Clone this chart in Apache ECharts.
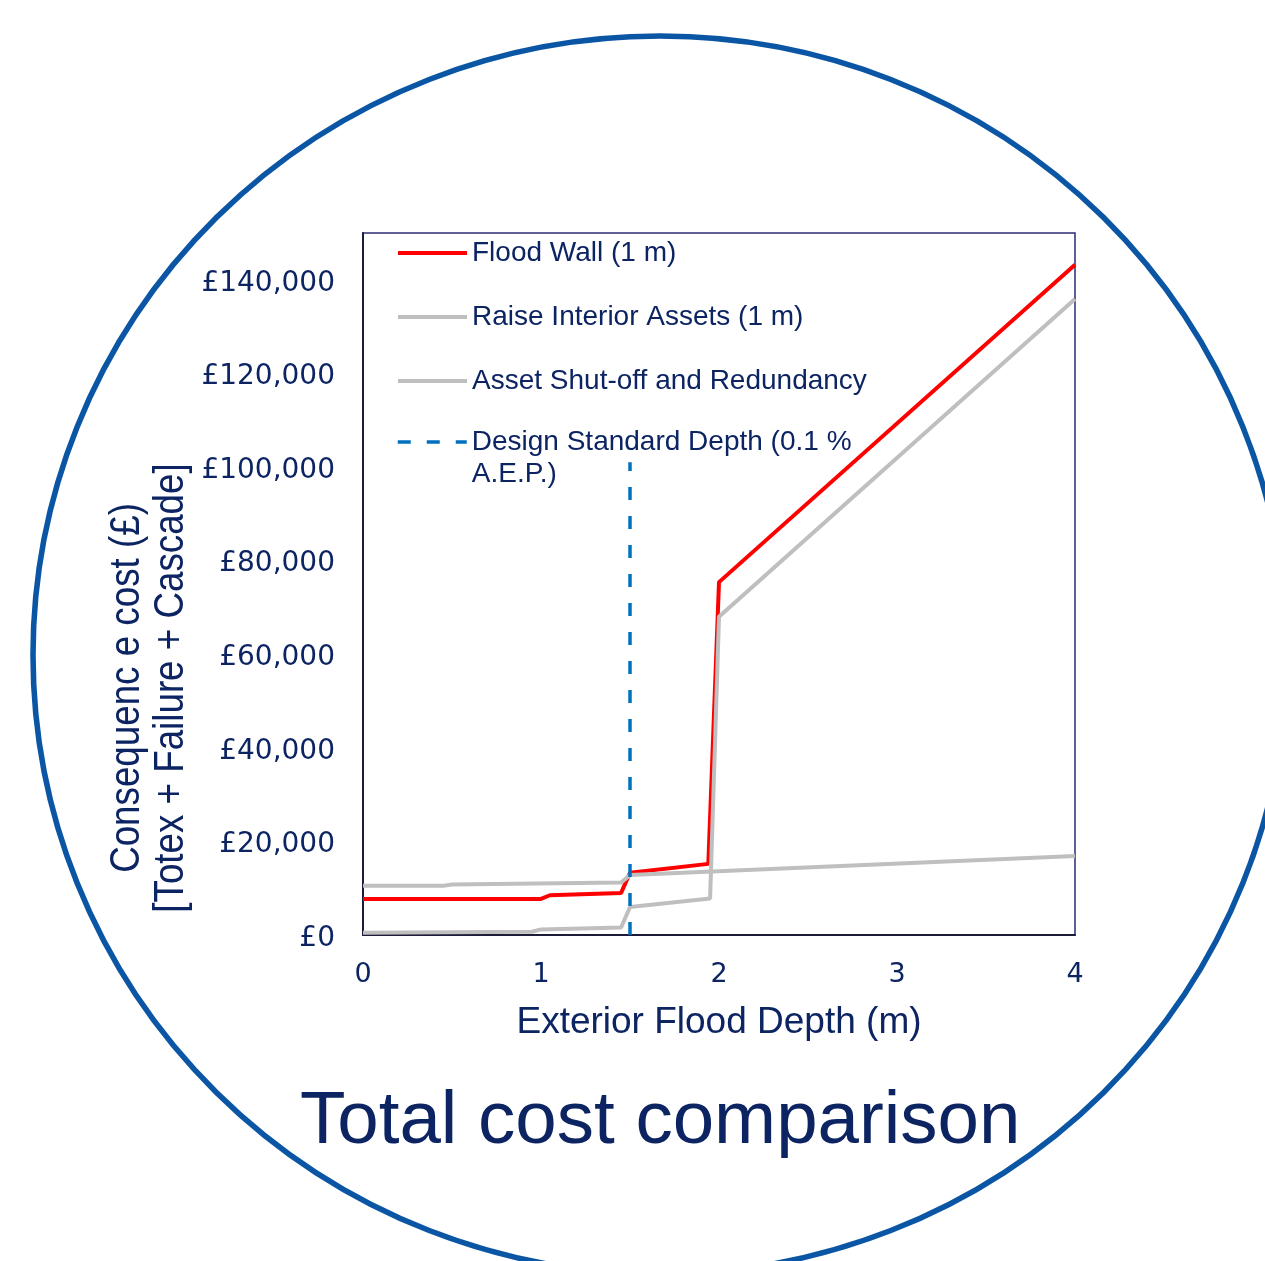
<!DOCTYPE html>
<html>
<head>
<meta charset="utf-8">
<title>Total cost comparison</title>
<script src="https://cdn.jsdelivr.net/npm/echarts@6/dist/echarts.min.js"></script>
<style>
  html, body { margin: 0; padding: 0; background: #fff; }
  #costChart { width: 1265px; height: 1261px; }
</style>
</head>
<body>
<div id="costChart"></div>
<script>
// data
var depthTicks = [0, 1, 2, 3, 4];
var costTicks = [0, 20000, 40000, 60000, 80000, 100000, 120000, 140000];

var floodWallDepth = [0, 1.0, 1.05, 1.45, 1.5, 1.94, 2.0, 4];
var floodWallCost = [7700, 7700, 8500, 9000, 13300, 15200, 75400, 143200];

var raiseAssetsDepth = [0, 0.95, 1.0, 1.45, 1.5, 1.95, 2.0, 4];
var raiseAssetsCost = [500, 700, 1200, 1600, 6000, 7800, 68000, 135900];

var shutOffDepth = [0, 0.45, 0.5, 1.45, 1.5, 4];
var shutOffCost = [10500, 10500, 10800, 11200, 12800, 16900];

var designDepth = [1.5, 1.5];
var designCost = [0, 101000];

var NAVY = "#0d2463";
var DESIGN_NAME = "Design Standard Depth (0.1 %\nA.E.P.)";

function pairs(xs, ys) {
  var out = [];
  for (var i = 0; i < xs.length; i++) out.push([xs[i], ys[i]]);
  return out;
}

var myChart = echarts.init(document.getElementById("costChart"));

myChart.setOption({
  animation: false,
  backgroundColor: "#fff",
  title: {
    text: "Total cost comparison",
    left: 300,
    top: 1085,
    padding: 0,
    textStyle: {
      fontFamily: "Liberation Sans",
      fontSize: 74.5,
      fontWeight: "normal",
      color: NAVY
    }
  },
  graphic: [
    {
      // big ring round the chart
      type: "circle",
      x: 660,
      y: 655,
      scaleX: 627 / 619,
      shape: { cx: 0, cy: 0, r: 619 },
      style: { fill: "none", stroke: "#0b56a4", lineWidth: 5.5 },
      silent: true
    },
    {
      // y axis title, squeezed to look like a narrow face
      type: "text",
      x: 149,
      y: 688,
      rotation: Math.PI / 2,
      scaleX: 0.875,
      style: {
        text: "Consequenc e cost (£)\n[Totex + Failure + Cascade]",
        fontFamily: "Liberation Sans",
        fontSize: 42,
        lineHeight: 44,
        fill: NAVY,
        align: "center",
        verticalAlign: "middle"
      }
    }
  ],
  legend: [
    {
      orient: "vertical",
      left: 396,
      top: 239,
      padding: 0,
      itemWidth: 69,
      itemHeight: 28,
      itemGap: 36,
      itemStyle: { opacity: 0 },
      lineStyle: { width: 4 },
      data: ["Flood Wall (1 m)", "Raise Interior Assets (1 m)", "Asset Shut-off and Redundancy"],
      textStyle: { fontFamily: "Liberation Sans", fontSize: 28, color: NAVY }
    },
    {
      orient: "vertical",
      left: 396,
      top: 394,
      padding: 0,
      itemWidth: 69,
      itemHeight: 28,
      itemStyle: { opacity: 0 },
      lineStyle: { width: 3.5 },
      data: [DESIGN_NAME],
      formatter: function (name) {
        return "\n" + name;
      },
      textStyle: {
        fontFamily: "Liberation Sans",
        fontSize: 28,
        lineHeight: 32,
        color: NAVY
      }
    }
  ],
  grid: {
    left: 363,
    right: 190,
    top: 233,
    bottom: 326,
    show: true,
    borderColor: "#2b2d7a",
    borderWidth: 1.5
  },
  xAxis: {
    type: "value",
    min: depthTicks[0],
    max: depthTicks[depthTicks.length - 1],
    interval: 1,
    name: "Exterior Flood Depth (m)",
    nameLocation: "middle",
    nameGap: 69,
    nameTextStyle: { fontFamily: "Liberation Sans", fontSize: 37, color: NAVY },
    axisLine: { lineStyle: { color: "#1c1c3a", width: 2 } },
    axisTick: { show: false },
    splitLine: { show: false },
    axisLabel: {
      margin: 26,
      fontFamily: "DejaVu Sans",
      fontSize: 27,
      color: NAVY
    }
  },
  yAxis: {
    type: "value",
    min: costTicks[0],
    max: 150000,
    interval: 20000,
    axisLine: { show: true, lineStyle: { color: "#1c1c3a", width: 2 } },
    axisTick: { show: false },
    splitLine: { show: false },
    axisLabel: {
      margin: 28,
      showMaxLabel: false,
      color: NAVY,
      formatter: function (v) {
        if (costTicks.indexOf(v) < 0) return "";
        return "{t|£" + v.toLocaleString("en-GB") + "}";
      },
      rich: {
        t: {
          fontFamily: "DejaVu Sans",
          fontSize: 28,
          color: NAVY,
          padding: [7, 0, 0, 0]
        }
      }
    }
  },
  series: [
    {
      name: "Flood Wall (1 m)",
      type: "line",
      symbol: "none",
      data: pairs(floodWallDepth, floodWallCost),
      lineStyle: { color: "#ff0000", width: 4 },
      itemStyle: { color: "#ff0000" }
    },
    {
      name: "Raise Interior Assets (1 m)",
      type: "line",
      symbol: "none",
      data: pairs(raiseAssetsDepth, raiseAssetsCost),
      lineStyle: { color: "#bfbfbf", width: 4 },
      itemStyle: { color: "#bfbfbf" }
    },
    {
      name: "Asset Shut-off and Redundancy",
      type: "line",
      symbol: "none",
      data: pairs(shutOffDepth, shutOffCost),
      lineStyle: { color: "#bfbfbf", width: 4 },
      itemStyle: { color: "#bfbfbf" }
    },
    {
      name: DESIGN_NAME,
      type: "line",
      symbol: "none",
      data: pairs(designDepth, designCost),
      lineStyle: { color: "#0070c0", width: 3.5, type: [13, 16] },
      itemStyle: { color: "#0070c0" }
    }
  ]
});
</script>
</body>
</html>
